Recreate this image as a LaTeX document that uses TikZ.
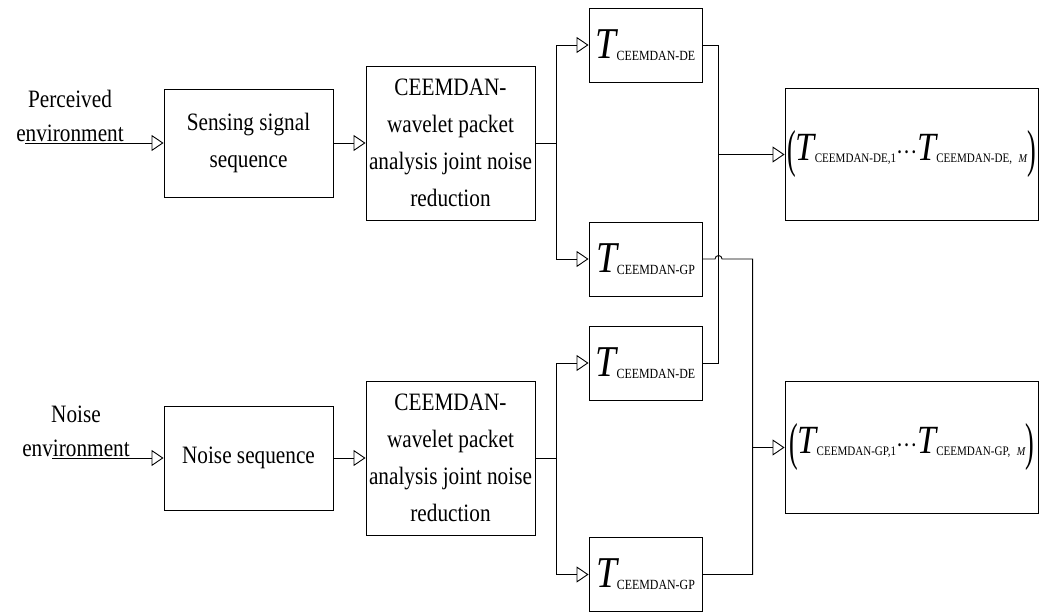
\documentclass[tikz,border=0pt]{standalone}
\usepackage{fontspec}
\setmainfont[FakeStretch=0.85]{Liberation Serif}
\newfontfamily\parenfont[FakeStretch=0.5]{Liberation Serif}
\usetikzlibrary{calc}
\usetikzlibrary{shapes,arrows.meta}

\newcommand{\Tsub}[3]{{\fontsize{#1}{#1}\selectfont\itshape T}\raisebox{-2pt}{\fontsize{#2}{#2}\selectfont #3}}
\newcommand{\Tsym}[1]{\Tsub{44}{14}{#1}}
\newcommand{\Tlist}[1]{\raisebox{-6pt}{\fontsize{52}{52}\parenfont(}\Tsub{40}{13}{CEEMDAN-#1,1}{\fontsize{25}{25}\selectfont\textperiodcentered\textperiodcentered\textperiodcentered}\Tsub{40}{13}{CEEMDAN-#1,\enspace{\fontsize{12}{12}\selectfont\itshape M}}\raisebox{-6pt}{\fontsize{52}{52}\parenfont)}}

\tikzset{
  block/.style={rectangle,draw,align=center,inner sep=0pt,font=\fontsize{25}{37}\selectfont},
  tbox/.style={rectangle,draw,minimum width=113pt,minimum height=74pt,inner sep=0pt},
  outbox/.style={rectangle,draw,minimum width=253pt,minimum height=132pt,inner sep=0pt},
  envlabel/.style={align=center,inner sep=0pt,anchor=south,font=\fontsize{25}{34}\selectfont}
}

\begin{document}
\begin{tikzpicture}[>={Triangle[open,length=12pt,width=16pt]},x=1pt,y=1pt,node distance=202pt,line width=0.9pt]
\useasboundingbox (0,0) rectangle (1047,612);
% upper branch
\node[block,minimum width=169pt,minimum height=108pt] (sense) at (248.5,469) {Sensing signal\\sequence};
\node[block,right of=sense,minimum width=169pt,minimum height=154pt] (ceem1) {CEEMDAN-\\wavelet packet\\analysis joint noise\\reduction};
\node[tbox,right of=ceem1,xshift=-7pt,yshift=98pt] (tde1) {\Tsym{CEEMDAN-DE}};
\node[tbox,right of=ceem1,xshift=-7pt,yshift=-116pt] (tgp1) {\Tsym{CEEMDAN-GP}};
\node[outbox,right of=ceem1,xshift=259pt,yshift=-11.5pt] (out1) {\Tlist{DE}};
% lower branch
\node[block,below of=sense,yshift=-113pt,minimum width=169pt,minimum height=104pt] (noise) {Noise sequence};
\node[block,right of=noise,minimum width=169pt,minimum height=154pt] (ceem2) {CEEMDAN-\\wavelet packet\\analysis joint noise\\reduction};
\node[tbox,right of=ceem2,xshift=-7pt,yshift=95pt] (tde2) {\Tsym{CEEMDAN-DE}};
\node[tbox,right of=ceem2,xshift=-7pt,yshift=-116.5pt] (tgp2) {\Tsym{CEEMDAN-GP}};
\node[outbox,right of=ceem2,xshift=259pt,yshift=10.5pt] (out2) {\Tlist{GP}};
% inputs
\node[envlabel] (plab) at (70,470) {Perceived\\environment};
\node[envlabel] (nlab) at (76,155) {Noise\\environment};
\coordinate (in1) at (25,469);
\coordinate (in2) at (52,154);
% junctions
\coordinate (sp1) at ($(ceem1.east)+(20.5,0)$);
\coordinate (sp2) at ($(ceem2.east)+(20.5,0)$);
\coordinate (j1) at ($(out1.west)+(-66,0)$);
\coordinate (j2) at ($(out2.west)+(-32,0)$);

\draw [->] (in1) -- (sense);
\draw [->] (sense) -- (ceem1);
\draw (ceem1) -- (sp1);
\draw [->] (sp1) |- (tde1);
\draw [->] (sp1) |- (tgp1);

\draw [->] (in2) -- (noise);
\draw [->] (noise) -- (ceem2);
\draw (ceem2) -- (sp2);
\draw [->] (sp2) |- (tde2);
\draw [->] (sp2) |- (tgp2);

\draw (tde1) -| (j1) |- (tde2);
\draw [->] (j1) -- (out1);
\draw (tgp1) -- ($(j1 |- tgp1.east)+(-3.5,0)$) arc[start angle=180,end angle=0,radius=3.5pt] -| (j2) |- (tgp2);
\draw [->] (j2) -- (out2);

\end{tikzpicture}
\end{document}
